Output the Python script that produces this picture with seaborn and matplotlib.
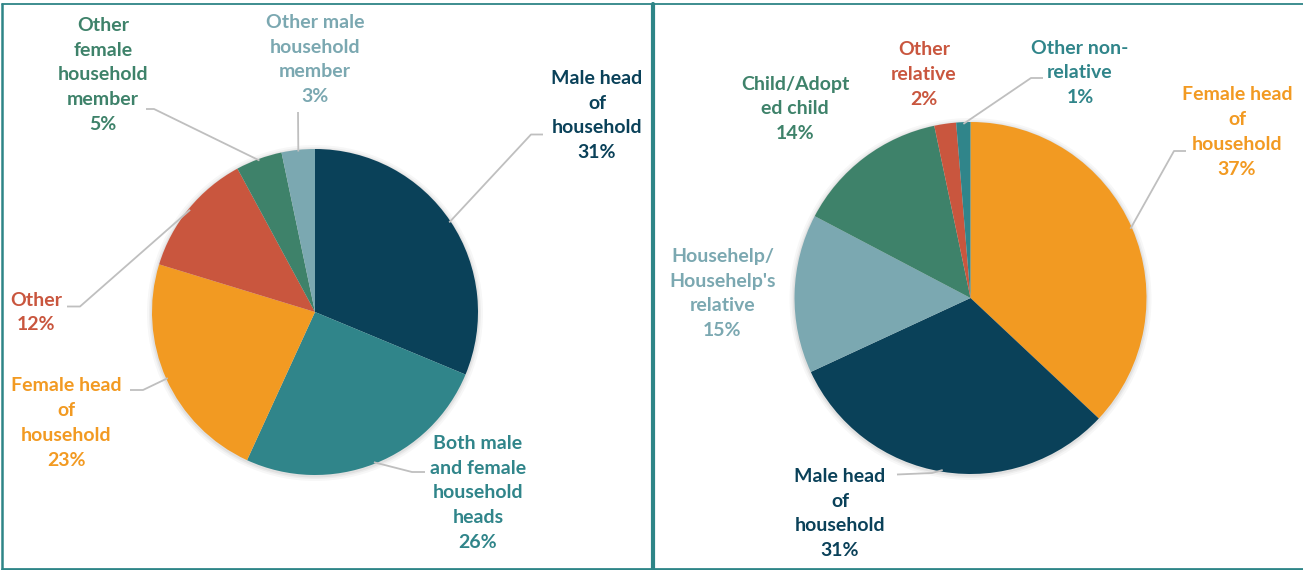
import matplotlib
matplotlib.use("Agg")
import matplotlib.pyplot as plt
import seaborn as sns
import numpy as np

# ---------------- data ----------------
left_labels = ["Male head\nof\nhousehold", "Both male\nand female\nhousehold\nheads",
               "Female head\nof\nhousehold", "Other", "Other\nfemale\nhousehold\nmember",
               "Other male\nhousehold\nmember"]
left_values = [31.3, 25.6, 22.9, 12.4, 4.6, 3.3]

right_labels = ["Female head\nof\nhousehold", "Male head\nof\nhousehold",
                "Househelp/\nHousehelp's\nrelative", "Child/Adopt\ned child",
                "Other\nrelative", "Other non-\nrelative"]
right_values = [37.0, 31.1, 14.6, 14.0, 2.0, 1.3]

NAVY, TEAL, ORANGE, RED, GREEN, LIGHT = "#0A4159", "#30858A", "#F29A22", "#C9563E", "#3E826A", "#7BA8B1"
left_colors = [NAVY, TEAL, ORANGE, RED, GREEN, LIGHT]
right_colors = [ORANGE, NAVY, LIGHT, GREEN, RED, TEAL]

# ---------------- style ----------------
sns.set_theme(style="white")
plt.rcParams['font.family'] = ['Lato', 'DejaVu Sans']

W, H = 1303, 570
fig = plt.figure(figsize=(W / 100, H / 100), dpi=100)
ax = fig.add_axes([0, 0, 1, 1])

def Y(y):
    return H - y

LEAD = "#BFBFBF"
FS = 14
LS = 1.55

def draw_pie(values, colors, cx, cy, r):
    # soft shadow
    for k, a in [(5, 0.03), (3, 0.04), (1.5, 0.05)]:
        ax.add_patch(plt.Circle((cx, Y(cy) - 1), r + k, color="black", alpha=a, lw=0, zorder=1))
    wedges, _ = ax.pie(values, colors=sns.color_palette(colors), startangle=90,
                       counterclock=False, center=(cx, Y(cy)), radius=r,
                       wedgeprops=dict(linewidth=0, zorder=2), frame=True)
    return wedges

def edge_point(w, frac=1.0):
    th = np.deg2rad((w.theta1 + w.theta2) / 2)
    cx, cy = w.center
    return cx + w.r * frac * np.cos(th), cy + w.r * frac * np.sin(th)

def label(text, val, x, y, color):
    ax.text(x, Y(y), f"{text}\n{val:.0f}%", ha="center", va="center", color=color,
            fontsize=FS, fontweight="bold", linespacing=LS, zorder=5)

def leader(w, pts):
    sx, sy = edge_point(w, 0.99)
    xs = [sx] + [p[0] for p in pts]
    ys = [sy] + [Y(p[1]) for p in pts]
    ax.plot(xs, ys, color=LEAD, lw=1.3, zorder=4, solid_capstyle="butt")

# ---------------- left pie ----------------
lw_ = draw_pie(left_values, left_colors, 315, 312, 163)
left_pos = [(597, 115.5), (478, 493), (66, 423), (36, 312.5), (103, 75), (315, 59.5)]
for t, v, (x, y), c in zip(left_labels, left_values, left_pos, left_colors):
    label(t, v, x, y, c)
leader(lw_[0], [(531, 134.5), (543, 134.5)])
leader(lw_[1], [(412, 472), (425, 472)])
leader(lw_[2], [(143, 390), (130, 390)])
leader(lw_[3], [(80, 306.5), (67, 306.5)])
leader(lw_[4], [(154, 109), (146, 109)])
leader(lw_[5], [(298, 112)])

# ---------------- right pie ----------------
rw = draw_pie(right_values, right_colors, 970.5, 298, 176)
right_pos = [(1237, 132), (840, 513.5), (722.5, 293.5), (795, 109), (924, 74.5), (1080, 73)]
for t, v, (x, y), c in zip(right_labels, right_values, right_pos, right_colors):
    label(t, v, x, y, c)
leader(rw[0], [(1174, 151), (1186, 151)])
leader(rw[1], [(932, 473), (897, 474.5)])
leader(rw[5], [(1031, 78), (1043, 78)])

# ---------------- frames ----------------
BORDER = "#2E8587"
ax.plot([2, 651], [Y(4), Y(4)], color=BORDER, lw=1.3, zorder=6)
ax.plot([654, 1303], [Y(4), Y(4)], color=BORDER, lw=1.3, zorder=6)
ax.plot([2, 2], [Y(4), Y(569)], color=BORDER, lw=1.8, zorder=6)
ax.plot([653, 653], [Y(4), Y(569)], color=BORDER, lw=3, zorder=6)
ax.plot([2, 1303], [Y(569), Y(569)], color=BORDER, lw=2, zorder=6)

ax.set_xlim(0, W)
ax.set_ylim(0, H)
ax.set_aspect("equal")
ax.axis("off")

fig.savefig("out.png", dpi=100)
